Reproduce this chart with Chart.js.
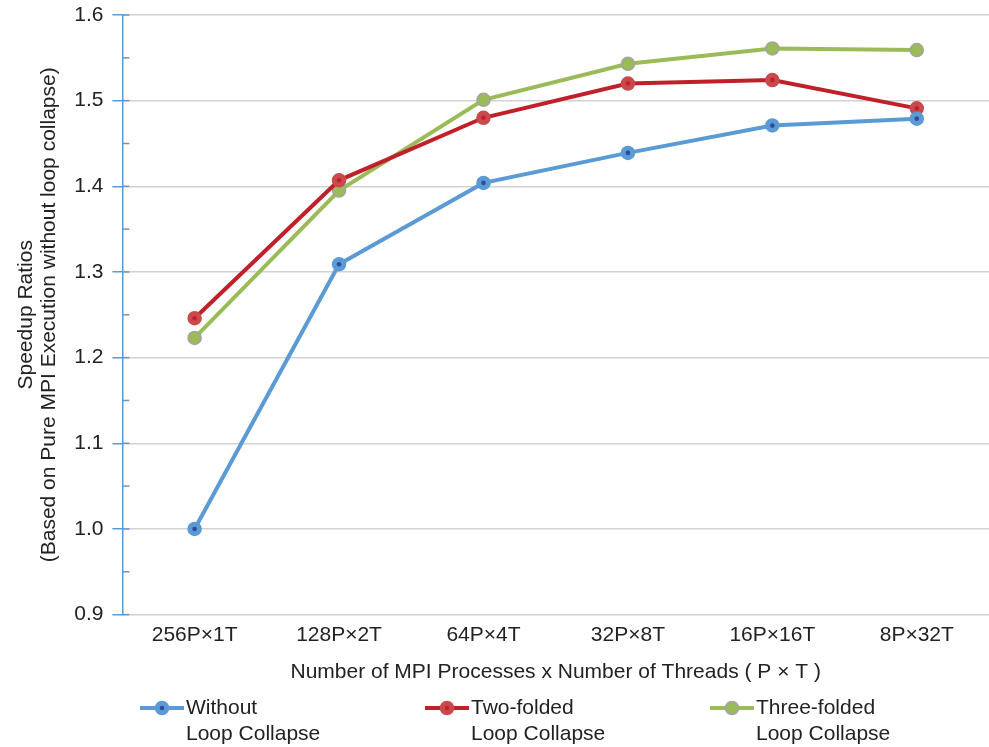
<!DOCTYPE html>
<html>
<head>
<meta charset="utf-8">
<script src="https://cdn.jsdelivr.net/npm/chart.js@4.4.1/dist/chart.umd.min.js"></script>
<style>
  html, body { margin: 0; padding: 0; background: #fff; overflow: hidden; }
  canvas { display: block; }
</style>
</head>
<body>
<canvas id="chart" width="989" height="747"></canvas>
<script>
// Data
const categories = ['256P\u00d71T', '128P\u00d72T', '64P\u00d74T', '32P\u00d78T', '16P\u00d716T', '8P\u00d732T'];
const withoutCollapse = [1.000, 1.309, 1.404, 1.439, 1.471, 1.479];
const twoFolded = [1.246, 1.407, 1.480, 1.520, 1.524, 1.491];
const threeFolded = [1.223, 1.395, 1.501, 1.543, 1.561, 1.559];
const seriesNames = [['Without', 'Loop Collapse'], ['Two-folded', 'Loop Collapse'], ['Three-folded', 'Loop Collapse']];

const FONT = '"Liberation Sans", Arial, Helvetica, sans-serif';
const FS = 21;
const AXIS_BLUE = '#5b9bd5';

const styles = [
  { line: '#5b9bd5', fill: '#5b9bd5', border: '#5b9bd5', dot: '#2f4b9c' },
  { line: '#c0202a', fill: '#c94a4c', border: '#c94a4c', dot: '#c0202a' },
  { line: '#9bbb59', fill: '#9bbb59', border: '#a3a3a3', dot: null }
];

function ds(i, data) {
  const s = styles[i];
  return {
    label: seriesNames[i].join(' '),
    data,
    borderColor: s.line,
    backgroundColor: s.fill,
    pointBackgroundColor: s.fill,
    pointBorderColor: s.border,
    pointBorderWidth: 1.5,
    pointRadius: 6.5,
    borderWidth: 4,
    tension: 0
  };
}

// small dark dot in the middle of each marker
const centerDots = {
  id: 'centerDots',
  afterDatasetsDraw(chart) {
    const ctx = chart.ctx;
    chart.data.datasets.forEach((d, i) => {
      if (!styles[i].dot) return;
      chart.getDatasetMeta(i).data.forEach(pt => {
        ctx.beginPath();
        ctx.arc(pt.x, pt.y, 2.3, 0, Math.PI * 2);
        ctx.fillStyle = styles[i].dot;
        ctx.fill();
      });
    });
  }
};

// short tick stubs on the inner side of the y axis
const innerTicks = {
  id: 'innerTicks',
  afterDraw(chart) {
    const y = chart.scales.y, ctx = chart.ctx;
    const x0 = chart.chartArea.left;
    ctx.save();
    ctx.strokeStyle = AXIS_BLUE;
    ctx.lineWidth = 1.5;
    y.ticks.forEach(t => {
      const py = y.getPixelForValue(t.value);
      ctx.beginPath();
      ctx.moveTo(x0, py);
      ctx.lineTo(x0 + 7, py);
      ctx.stroke();
    });
    ctx.restore();
  }
};

// legend below the axis title, two-line labels
const legendBelow = {
  id: 'legendBelow',
  afterDraw(chart) {
    const ctx = chart.ctx;
    const xs = [140, 425, 710];
    const yTop = 708;
    ctx.save();
    chart.data.datasets.forEach((d, i) => {
      const s = styles[i], x = xs[i];
      ctx.strokeStyle = s.line;
      ctx.lineWidth = 4;
      ctx.beginPath();
      ctx.moveTo(x, yTop);
      ctx.lineTo(x + 44, yTop);
      ctx.stroke();
      ctx.beginPath();
      ctx.arc(x + 22, yTop, 6.5, 0, Math.PI * 2);
      ctx.fillStyle = s.fill;
      ctx.fill();
      ctx.lineWidth = 1.5;
      ctx.strokeStyle = s.border;
      ctx.stroke();
      if (s.dot) {
        ctx.beginPath();
        ctx.arc(x + 22, yTop, 2.3, 0, Math.PI * 2);
        ctx.fillStyle = s.dot;
        ctx.fill();
      }
      ctx.fillStyle = '#222';
      ctx.font = FS + 'px ' + FONT;
      ctx.textBaseline = 'middle';
      ctx.textAlign = 'left';
      seriesNames[i].forEach((t, k) => ctx.fillText(t, x + 46, yTop + k * 26));
    });
    ctx.restore();
  }
};

new Chart(document.getElementById('chart'), {
  type: 'line',
  data: {
    labels: categories,
    datasets: [ds(0, withoutCollapse), ds(1, twoFolded), ds(2, threeFolded)]
  },
  plugins: [centerDots, innerTicks, legendBelow],
  options: {
    responsive: false,
    animation: false,
    layout: { autoPadding: false, padding: { top: 0, right: 0, bottom: 62, left: 15 } },
    plugins: {
      legend: { display: false },
      tooltip: { enabled: false }
    },
    scales: {
      x: {
        offset: true,
        grid: { display: false, drawTicks: false },
        border: { display: false },
        ticks: { color: '#222', padding: 8, font: { family: FONT, size: FS } },
        title: {
          display: true,
          text: 'Number of MPI Processes x Number of Threads ( P \u00d7 T )',
          color: '#222',
          font: { family: FONT, size: FS },
          padding: { top: 4, bottom: 0 }
        },
        afterFit: s => { s.paddingLeft = 0; s.paddingRight = 0; }
      },
      y: {
        min: 0.9,
        max: 1.6,
        border: { display: true, color: AXIS_BLUE, width: 1.5 },
        grid: {
          color: c => (Math.round(c.tick.value * 100) % 10 === 0 ? '#d2d2d2' : 'rgba(0,0,0,0)'),
          lineWidth: 1.5,
          tickColor: c => (Math.round(c.tick.value * 100) % 10 === 0 ? AXIS_BLUE : 'rgba(0,0,0,0)'),
          tickLength: 10,
          tickWidth: 1.5
        },
        ticks: {
          stepSize: 0.05,
          autoSkip: false,
          color: '#222',
          padding: 9,
          font: { family: FONT, size: FS },
          callback: v => (Math.round(v * 100) % 10 === 0 ? v.toFixed(1) : '')
        },
        title: {
          display: true,
          text: ['Speedup Ratios', '(Based on Pure MPI Execution without loop collapse)'],
          color: '#222',
          font: { family: FONT, size: FS, lineHeight: 1.1 },
          padding: { top: 0, bottom: 4 }
        },
        afterFit: s => { s.paddingTop = 15; s.paddingBottom = 0; }
      }
    }
  }
});
</script>
</body>
</html>
